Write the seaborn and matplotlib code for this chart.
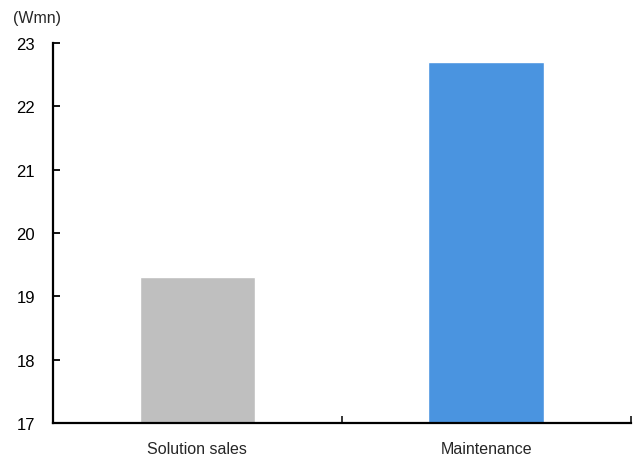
import matplotlib
matplotlib.use("Agg")
import matplotlib.pyplot as plt
import seaborn as sns
import pandas as pd

categories = ["Solution sales", "Maintenance"]
values = [19.3, 22.7]
colors = ["#BFBFBF", "#4A94E0"]
y_ticks = [17, 18, 19, 20, 21, 22, 23]
unit_label = "(Wmn)"

sns.set_style("white")
plt.rcParams['font.family'] = ['Liberation Sans', 'DejaVu Sans']
fs = 11.5

df = pd.DataFrame({"category": categories, "value": values})

fig = plt.figure(figsize=(6.34, 4.64), dpi=100)
ax = fig.add_axes([0.0836, 0.086, 0.911, 0.819])

sns.barplot(data=df, x="category", y="value", hue="category", palette=colors,
            width=0.4, legend=False, ax=ax, saturation=1)

ax.set_ylim(17, 23)
ax.set_yticks(y_ticks)
ax.set_yticklabels([str(t) for t in y_ticks], fontsize=12)
ax.set_xlim(-0.5, 1.5)
ax.set_xlabel("")
ax.set_ylabel("")

for s in ["top", "right"]:
    ax.spines[s].set_visible(False)
for s in ["left", "bottom"]:
    ax.spines[s].set_color("black")
    ax.spines[s].set_linewidth(1.6)

ax.tick_params(axis="y", direction="in", length=5, width=1.3, left=True, pad=13, colors="black")
ax.set_xticks([0, 1])
ax.set_xticklabels(categories, fontsize=fs)
ax.tick_params(axis="x", length=0, pad=13)
ax.set_xticks([0.5, 1.5], minor=True)
ax.tick_params(axis="x", which="minor", direction="in", length=5, width=1.3, bottom=True)

fig.text(0.02, 0.961, unit_label, fontsize=fs, ha="left", va="center")

fig.savefig("out.png", dpi=100)
